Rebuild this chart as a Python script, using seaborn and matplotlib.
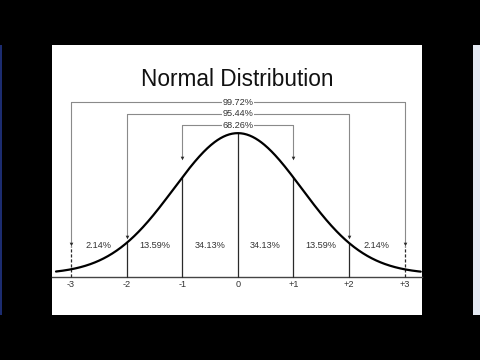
import numpy as np
import pandas as pd
import matplotlib
matplotlib.use("Agg")
import matplotlib.pyplot as plt
import seaborn as sns
from matplotlib.patches import Rectangle

# ---- data ----
SIGMA_POS = [-3, -2, -1, 0, 1, 2, 3]
TICK_LABELS = ["-3", "-2", "-1", "0", "+1", "+2", "+3"]
BAND_MIDS = [-2.5, -1.5, -0.5, 0.5, 1.5, 2.5]
BAND_PCTS = ["2.14%", "13.59%", "34.13%", "34.13%", "13.59%", "2.14%"]
BRACKET_HALF = [3, 2, 1]
BRACKET_LABELS = ["99.72%", "95.44%", "68.26%"]
CURVE_MEAN = 0.0
CURVE_SD = 1.15
TITLE = "Normal Distribution"

# ---- layout constants ----
BASE = 0.0074
BRACKET_Y = [0.431, 0.4015, 0.374]
ARROW_Y = [0.0825, 0.0985, 0.293]
PCT_Y = 0.0788
X_MIN, X_MAX = -3.27, 3.29

sns.set_theme(style="white")
plt.rcParams["font.family"] = ["Liberation Sans", "DejaVu Sans"]


def curve(x):
    x = np.asarray(x, dtype=float)
    return BASE + np.exp(-0.5 * ((x - CURVE_MEAN) / CURVE_SD) ** 2) / (CURVE_SD * np.sqrt(2 * np.pi))


fig = plt.figure(figsize=(4.8, 3.6), dpi=100, facecolor="black")
ax = fig.add_axes([52 / 480, 45 / 360, 370 / 480, 270 / 360])
ax.set_facecolor("white")

xs = np.linspace(X_MIN, X_MAX, 500)
df = pd.DataFrame({"x": xs, "y": curve(xs)})
sns.lineplot(data=df, x="x", y="y", ax=ax, color="black", lw=1.6, zorder=5)

dark = "#2a2a2a"
light = "#8a8a8a"

# sigma lines under the curve
for s in SIGMA_POS:
    if abs(s) == 3:
        continue
    ax.plot([s, s], [0, float(curve(s))], color=dark, lw=0.9, zorder=3)

# brackets
for half, by, ay, lab in zip(BRACKET_HALF, BRACKET_Y, ARROW_Y, BRACKET_LABELS):
    ax.plot([-half, half], [by, by], color=light, lw=0.8, zorder=2)
    for s in (-half, half):
        ax.plot([s, s], [by, ay], color=light, lw=0.8, zorder=2)
        ax.plot([s], [ay], marker="v", ms=2.6, color=dark, mew=0, zorder=4)
        if half == 3:
            ax.plot([s, s], [0, ay - 0.006], color=dark, lw=0.9, ls=(0, (2.5, 1.5)), zorder=3)
    ax.text(0, by, lab, ha="center", va="center", fontsize=6.6, color="#333333",
            bbox=dict(boxstyle="square,pad=0.05", fc="white", ec="none"), zorder=6)

# band percentages
for m, p in zip(BAND_MIDS, BAND_PCTS):
    ax.text(m, PCT_Y, p, ha="center", va="center", fontsize=6.6, color="#333333", zorder=6)

ax.set_xlim(-3.342, 3.313)
ax.set_ylim(-0.0936, 0.5714)
for side in ["top", "left", "right"]:
    ax.spines[side].set_visible(False)
ax.spines["bottom"].set_position(("data", 0))
ax.spines["bottom"].set_color("#444444")
ax.spines["bottom"].set_linewidth(1.0)
ax.set_xticks(SIGMA_POS)
ax.set_xticklabels(TICK_LABELS, fontsize=6.6, color="#333333")
ax.tick_params(axis="x", length=0, pad=2.5)
ax.set_yticks([])
ax.set_xlabel("")
ax.set_ylabel("")

fig.text(237 / 480, (360 - 86) / 360, TITLE, ha="center", va="baseline",
         fontsize=16.3, color="#111111")

# screen edges
fig.patches.append(Rectangle((0, 45 / 360), 2 / 480, 270 / 360, transform=fig.transFigure,
                             fc="#1c2c70", ec="none"))
fig.patches.append(Rectangle((473 / 480, 45 / 360), 7 / 480, 270 / 360, transform=fig.transFigure,
                             fc="#e4e9f2", ec="none"))

fig.savefig("out.png", dpi=100, facecolor="black")
